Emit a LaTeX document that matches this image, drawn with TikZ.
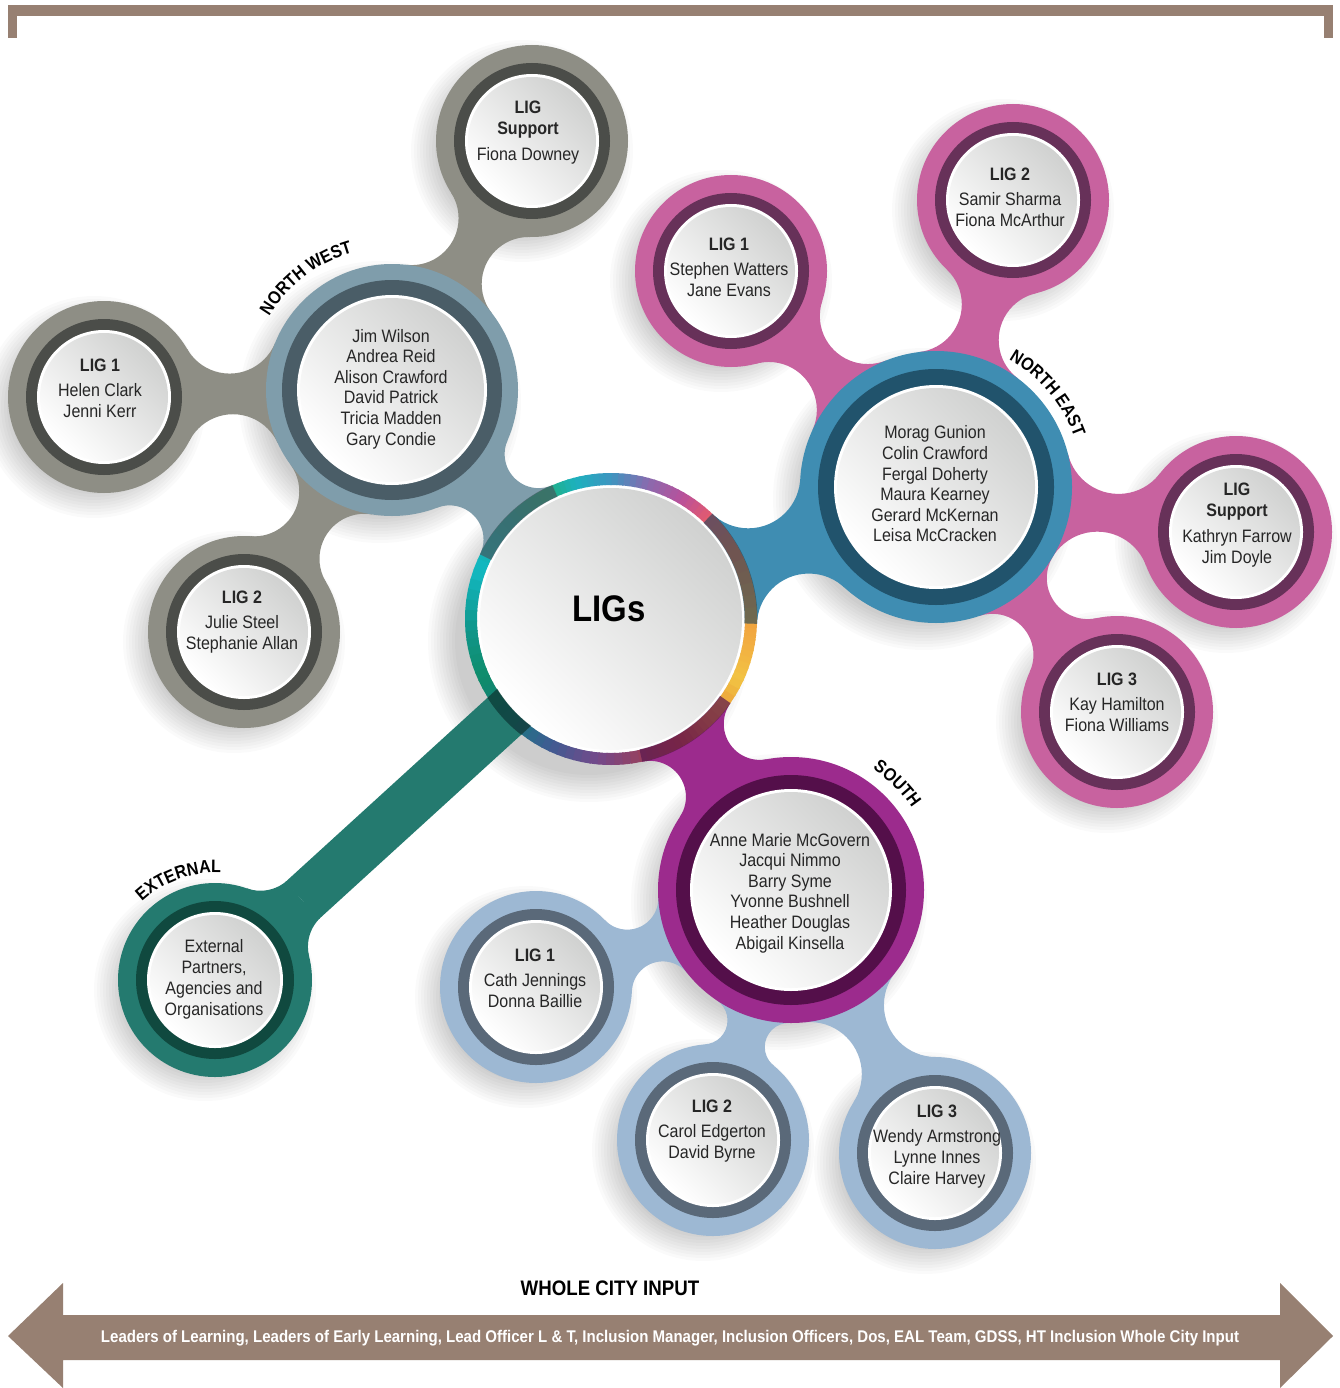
\documentclass[tikz,border=0pt]{standalone}
\usepackage{fontspec}
\setmainfont{Liberation Sans}[FakeStretch=0.89]
\usetikzlibrary{intersections,calc,decorations.text}
\definecolor{brownbar}{HTML}{978072}
\definecolor{nwgray}{HTML}{8E8E85}
\definecolor{nwgrayd}{HTML}{4B4D49}
\definecolor{nwhubc}{HTML}{7F9DAB}
\definecolor{nwhubd}{HTML}{4A5D67}
\definecolor{nepink}{HTML}{C8629F}
\definecolor{nepinkd}{HTML}{673159}
\definecolor{nehubc}{HTML}{3F8DB2}
\definecolor{nehubd}{HTML}{21536C}
\definecolor{spurple}{HTML}{9C2B8D}
\definecolor{spurpled}{HTML}{540F4A}
\definecolor{sblue}{HTML}{9DB8D3}
\definecolor{sblued}{HTML}{5A6979}
\definecolor{extteal}{HTML}{247A6F}
\definecolor{exttealdk}{HTML}{10493F}
\definecolor{txt}{HTML}{262626}
\definecolor{discgray}{HTML}{D0D1D0}
\definecolor{rA}{HTML}{F0A23E}
\definecolor{rB}{HTML}{F26A45}
\definecolor{rC}{HTML}{E85C6A}
\definecolor{rD}{HTML}{B8519B}
\definecolor{rE}{HTML}{8A6AAE}
\definecolor{rF}{HTML}{3F94C0}
\definecolor{rG}{HTML}{1CB1BE}
\definecolor{rH}{HTML}{22B07A}
\definecolor{rI}{HTML}{16A59A}
\definecolor{rJ}{HTML}{12B9C2}
\definecolor{rK}{HTML}{10968A}
\definecolor{rL}{HTML}{0F8C6A}
\definecolor{rM}{HTML}{167A80}
\definecolor{rN}{HTML}{3F5C92}
\definecolor{rO}{HTML}{74498A}
\definecolor{rP}{HTML}{9A3F5A}
\definecolor{rQ}{HTML}{C0443A}
\definecolor{rR}{HTML}{E88A35}
\definecolor{rS}{HTML}{F2C443}
\definecolor{rT}{HTML}{F2AE42}
\newcommand\neck[6]{%
  \begin{scope}
  \path[name path=nka] (#1) circle[radius=#3+#5];
  \path[name path=nkb] (#2) circle[radius=#4+#5];
  \path[name intersections={of=nka and nkb, name=nkP}];
  \clip (#1) -- (nkP-1) -- (#2) -- (nkP-2) -- cycle;
  \fill[#6, even odd rule] (#1) circle[radius=1200]
     (nkP-1) circle[radius=#5] (nkP-2) circle[radius=#5];
  \end{scope}}
\newcommand\disc[6]{%
  \fill[#5] (#1) circle[radius=#2];
  \fill[#6] (#1) circle[radius=#3];
  \fill[white] (#1) circle[radius=#4];
  \shade[top color=discgray, bottom color=white, shading angle=-45] (#1) circle[radius=#4-3];}
\newcommand\softshadow[4]{%
  \foreach \k in {1,...,10}{\fill[black,opacity=0.02] ($(#1)+(#3,#4)$) circle[radius=#2+18-\k*3];}}
\newcommand\lblfont{\fontsize{18}{18}\selectfont\bfseries}
\begin{document}
\begin{tikzpicture}[x=1pt,y=1pt,
  ligtext/.style={align=center, text=txt, inner sep=0pt, font=\fontsize{18}{21}\selectfont},
  hubtext/.style={align=center, text=txt, inner sep=0pt, font=\fontsize{18}{20.6}\selectfont},
  arclabel/.style={decorate, decoration={text along path, text align=center, text={|\lblfont|#1}}}]
\useasboundingbox (0,0) rectangle (1339,-1388);
\fill[white] (0,0) rectangle (1339,-1388);
% top bracket
\fill[brownbar] (8,-5) rectangle (1333,-16);
\fill[brownbar] (8,-5) rectangle (17,-38);
\fill[brownbar] (1324,-5) rectangle (1333,-38);
% centres
\coordinate (ligs) at (611,-619);
\coordinate (nwhub) at (392,-390);
\coordinate (nwsup) at (532,-141);
\coordinate (nwl1) at (104,-397);
\coordinate (nwl2) at (244,-632);
\coordinate (nehub) at (936,-487);
\coordinate (nel1) at (731,-271);
\coordinate (nel2) at (1013,-200);
\coordinate (nesup) at (1236,-532);
\coordinate (nel3) at (1117,-712);
\coordinate (shub) at (791,-890);
\coordinate (sl1) at (536,-987);
\coordinate (sl2) at (713,-1140);
\coordinate (sl3) at (935,-1153);
\coordinate (ext) at (215,-980);
\coordinate (extq) at ($(ext)!118pt!(ligs)$);
% shadows
\softshadow{ligs}{146}{-22}{-22}
\foreach \c/\r in {nwhub/126,nehub/136,shub/133}{\softshadow{\c}{\r}{-12}{-12}}
\foreach \c in {nwsup,nwl1,nwl2,nel1,nel2,nesup,nel3,sl1,sl2,sl3,ext}{\softshadow{\c}{96}{-10}{-10}}
% connectors
\neck{nwsup}{nwhub}{96}{126}{47}{nwgray}
\neck{nwl1}{nwhub}{96}{126}{49}{nwgray}
\neck{nwl2}{nwhub}{96}{126}{45}{nwgray}
\neck{nwhub}{ligs}{126}{146}{34}{nwhubc}
\neck{nel1}{nehub}{96}{136}{48}{nepink}
\neck{nel2}{nehub}{96}{136}{48}{nepink}
\neck{nesup}{nehub}{96}{136}{52}{nepink}
\neck{nel3}{nehub}{96}{136}{41}{nepink}
\neck{nehub}{ligs}{136}{146}{52}{nehubc}
\neck{shub}{ligs}{133}{146}{36}{spurple}
\neck{sl1}{shub}{96}{133}{31}{sblue}
\neck{sl2}{shub}{96}{133}{24}{sblue}
\neck{sl3}{shub}{96}{133}{52}{sblue}
\neck{ext}{extq}{97}{25}{40}{extteal}
\draw[extteal, line width=50pt] (extq) -- (ligs);
% discs
\disc{nwsup}{96}{78}{67}{nwgray}{nwgrayd}
\disc{nwl1}{96}{78}{67}{nwgray}{nwgrayd}
\disc{nwl2}{96}{78}{67}{nwgray}{nwgrayd}
\disc{nel1}{96}{78}{67}{nepink}{nepinkd}
\disc{nel2}{96}{78}{67}{nepink}{nepinkd}
\disc{nesup}{96}{78}{67}{nepink}{nepinkd}
\disc{nel3}{96}{78}{67}{nepink}{nepinkd}
\disc{sl1}{96}{78}{67}{sblue}{sblued}
\disc{sl2}{96}{78}{67}{sblue}{sblued}
\disc{sl3}{96}{78}{67}{sblue}{sblued}
\disc{ext}{97}{79}{68}{extteal}{exttealdk}
\disc{nwhub}{126}{110}{95}{nwhubc}{nwhubd}
\disc{nehub}{136}{118}{102}{nehubc}{nehubd}
\disc{shub}{133}{115}{101}{spurple}{spurpled}
% centre
\fill[white] (ligs) circle[radius=134];
\shade[top color=discgray, bottom color=white, shading angle=-45] (ligs) circle[radius=131];
\foreach \a/\b/\ca/\cb in {0/30/rA/rB,30/45/rB/rC,45/60/rC/rD,60/75/rD/rE,75/90/rE/rF,90/105/rF/rG,105/118/rG/rH,118/135/rH/rI,135/160/rI/rJ,160/185/rJ/rK,185/205/rK/rL,205/225/rL/rM,225/245/rM/rN,245/265/rN/rO,265/285/rO/rP,285/300/rP/rQ,300/315/rQ/rR,315/335/rR/rS,335/350/rS/rT,350/360/rT/rA}{
  \foreach \i in {0,...,5}{
    \pgfmathsetmacro\tA{\a+(\b-\a)*\i/6-0.3}
    \pgfmathsetmacro\tB{\a+(\b-\a)*(\i+1)/6+0.3}
    \pgfmathtruncatemacro\p{100-100*(\i+0.5)/6}
    \fill[\ca!\p!\cb] ($(ligs)+(\tA:146)$) arc[start angle=\tA, end angle=\tB, radius=146]
      -- ($(ligs)+(\tB:134)$) arc[start angle=\tB, end angle=\tA, radius=134] -- cycle;
  }}
% darkening of the ring where the bands pass beneath it
\begin{scope}[even odd rule]
\clip (ligs) circle[radius=146.5] (ligs) circle[radius=133.5];
\neck{nwhub}{ligs}{126}{146}{34}{nwhubc, opacity=0.55}
\neck{nehub}{ligs}{136}{146}{52}{nehubc, opacity=0.45}
\neck{shub}{ligs}{133}{146}{36}{spurple, opacity=0.55}
\draw[extteal, opacity=0.55, line width=50pt] (extq) -- (ligs);
\neck{nwhub}{ligs}{126}{146}{34}{black, opacity=0.3}
\neck{nehub}{ligs}{136}{146}{52}{black, opacity=0.3}
\neck{shub}{ligs}{133}{146}{36}{black, opacity=0.3}
\draw[black, opacity=0.4, line width=50pt] (extq) -- (ligs);
\end{scope}
% texts
\node[font=\fontsize{37}{40}\selectfont\bfseries] (ligsT) at (609,-609) {LIGs};
\node[ligtext] (nwsupT) at (528,-133) {\textbf{LIG}\\\textbf{Support}\\[5pt]Fiona Downey};
\node[ligtext] (nwl1T) at (100,-388) {\textbf{LIG 1}\\[4pt]Helen Clark\\Jenni Kerr};
\node[ligtext] (nwl2T) at (242,-622) {\textbf{LIG 2}\\[4pt]Julie Steel\\Stephanie Allan};
\node[hubtext] (nwhubT) at (391,-389) {Jim Wilson\\Andrea Reid\\Alison Crawford\\David Patrick\\Tricia Madden\\Gary Condie};
\node[ligtext] (nel1T) at (729,-267) {\textbf{LIG 1}\\[4pt]Stephen Watters\\Jane Evans};
\node[ligtext] (nel2T) at (1010,-197) {\textbf{LIG 2}\\[4pt]Samir Sharma\\Fiona McArthur};
\node[ligtext] (nesupT) at (1237,-525) {\textbf{LIG}\\\textbf{Support}\\[5pt]Kathryn Farrow\\Jim Doyle};
\node[ligtext] (nel3T) at (1117,-702) {\textbf{LIG 3}\\[4pt]Kay Hamilton\\Fiona Williams};
\node[hubtext] (nehubT) at (935,-484) {Morag Gunion\\Colin Crawford\\Fergal Doherty\\Maura Kearney\\Gerard McKernan\\Leisa McCracken};
\node[hubtext] (shubT) at (790,-893) {Anne Marie McGovern\\Jacqui Nimmo\\Barry Syme\\Yvonne Bushnell\\Heather Douglas\\Abigail Kinsella};
\node[ligtext] (sl1T) at (535,-978) {\textbf{LIG 1}\\[4pt]Cath Jennings\\Donna Baillie};
\node[ligtext] (sl2T) at (712,-1131) {\textbf{LIG 2}\\[4pt]Carol Edgerton\\David Byrne};
\node[ligtext] (sl3T) at (937,-1147) {\textbf{LIG 3}\\[4pt]Wendy Armstrong\\Lynne Innes\\Claire Harvey};
\node[ligtext] (extT) at (214,-979) {External\\Partners,\\Agencies and\\Organisations};
% arc labels
\path[arclabel={NORTH WEST}] ($(nwhub)+(165:143)$) arc[start angle=165, end angle=90, radius=143];
\path[arclabel={NORTH EAST}] ($(nehub)+(80:147)$) arc[start angle=80, end angle=0, radius=147];
\path[arclabel={SOUTH}] ($(shub)+(75:146)$) arc[start angle=75, end angle=15, radius=146];
\path[arclabel={EXTERNAL}] ($(ext)+(150:107)$) arc[start angle=150, end angle=70, radius=107];
% bottom arrow
\fill[brownbar] (8,-1336) -- (63,-1283) -- (63,-1315) -- (1280,-1315) -- (1280,-1283) -- (1333,-1336)
  -- (1280,-1388) -- (1280,-1360) -- (63,-1360) -- (63,-1388) -- cycle;
\node[font=\fontsize{21}{22}\selectfont\bfseries] (wci) at (610,-1288) {WHOLE CITY INPUT};
\node[font=\fontsize{16.9}{18}\selectfont\bfseries, text=white] (arrowT) at (670,-1338) {Leaders of Learning, Leaders of Early Learning, Lead Officer L \& T, Inclusion Manager, Inclusion Officers, Dos, EAL Team, GDSS, HT Inclusion Whole City Input};
\end{tikzpicture}
\end{document}
